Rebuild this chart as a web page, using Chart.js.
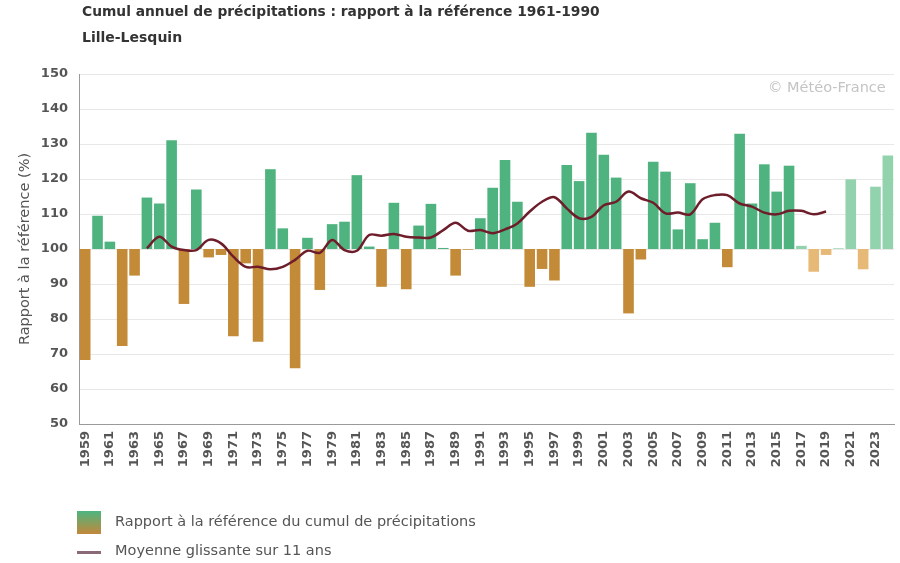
<!DOCTYPE html>
<html>
<head>
<meta charset="utf-8">
<script src="https://cdn.jsdelivr.net/npm/chart.js@4"></script>
<style>
  body { margin: 0; background: #fff; font-family: "DejaVu Sans", Verdana, sans-serif; }
  .page { position: relative; width: 900px; height: 563px; overflow: hidden; }
  .title { position: absolute; left: 82px; top: 3px; font-size: 13.8px; font-weight: bold; color: #333; white-space: nowrap; }
  .sub { position: absolute; left: 82px; top: 29px; font-size: 14px; font-weight: bold; color: #333; white-space: nowrap; }
  .copy { position: absolute; left: 768px; top: 79px; font-size: 14.5px; color: #c4c4c4; white-space: nowrap; }
  .chartBox { position: absolute; left: 0; top: 0; width: 900px; height: 563px; }
  .legend { position: absolute; left: 77px; font-size: 14.5px; color: #555; }
  .legend span { position: absolute; left: 38px; white-space: nowrap; }
  .sq { position: absolute; left: 0; top: 0; width: 24px; height: 23px;
        background: linear-gradient(#4cb57f, #c3873a); }
  .ln { position: absolute; left: 0; width: 24px; height: 3px; background: #8a6a78; }
</style>
</head>
<body>
<div class="page">
  <div class="chartBox"><canvas id="Chart" width="900" height="563"></canvas></div>
  <div class="title">Cumul annuel de précipitations : rapport à la référence 1961-1990</div>
  <div class="sub">Lille-Lesquin</div>
  <div class="copy">© Météo-France</div>
  <div class="legend" style="top:511px"><div class="sq"></div><span style="top:2px">Rapport à la référence du cumul de précipitations</span></div>
  <div class="legend" style="top:542px"><div class="ln" style="top:9px"></div><span style="top:0px">Moyenne glissante sur 11 ans</span></div>
</div>
<script>
let years = [];
for (let y = 1959; y <= 2024; y++) years.push(String(y));

// rapport annuel (%)
let ratio = [
  68.3, 109.5, 102.1, 72.3, 92.4, 114.7, 113.0, 131.1, 84.3, 117.0,
  97.6, 98.3, 75.1, 95.9, 73.5, 122.8, 105.9, 65.9, 103.2, 88.3,
  107.1, 107.8, 121.1, 100.7, 89.2, 113.2, 88.5, 106.7, 112.9, 100.3,
  92.4, 99.8, 108.8, 117.5, 125.4, 113.5, 89.2, 94.3, 91.0, 124.0,
  119.4, 133.2, 126.9, 120.4, 81.6, 97.0, 124.9, 122.1, 105.6, 118.8,
  102.8, 107.5, 94.8, 132.9, 113.0, 124.2, 116.4, 123.8, 100.9, 93.5,
  98.3, 100.2, 119.9, 94.2, 117.8, 126.7
];

// moyenne glissante 11 ans (1964-2019)
let movingAvg = [
  null, null, null, null, null,
  100.2, 103.5, 100.7, 99.7, 99.7, 102.6, 101.6, 97.8, 94.9, 94.9,
  94.2, 94.9, 96.9, 99.5, 98.9, 102.6, 99.7, 99.5, 104.0, 103.8,
  104.3, 103.5, 103.3, 103.3, 105.4, 107.5, 105.2, 105.4, 104.5, 105.6,
  107.3, 110.7, 113.5, 114.8, 111.6, 108.8, 109.2, 112.5, 113.5, 116.4,
  114.5, 113.2, 110.2, 110.4, 109.9, 114.2, 115.4, 115.4, 113.0, 112.1,
  110.4, 109.9, 110.9, 110.9, 109.9, 110.7,
  null, null, null, null, null
];

let yTicks = [50, 60, 70, 80, 90, 100, 110, 120, 130, 140, 150];
let firstFaded = 2017;

function barColor(i) {
  let v = ratio[i];
  let faded = Number(years[i]) >= firstFaded;
  if (v >= 100) return faded ? '#92d3ad' : '#4fb37f';
  return faded ? '#e6b977' : '#c38a37';
}

let ctx = document.getElementById('Chart').getContext('2d');

new Chart(ctx, {
  type: 'bar',
  data: {
    labels: years,
    datasets: [
      {
        type: 'line',
        label: 'Moyenne glissante sur 11 ans',
        data: movingAvg,
        borderColor: '#6e1d2a',
        borderWidth: 2.5,
        pointRadius: 0,
        tension: 0.35,
        spanGaps: false,
        order: 0
      },
      {
        label: 'Rapport à la référence du cumul de précipitations',
        data: ratio.map(v => [100, v]),
        backgroundColor: ratio.map((v, i) => barColor(i)),
        borderWidth: 0,
        barPercentage: 0.86,
        categoryPercentage: 1,
        order: 1
      }
    ]
  },
  options: {
    responsive: false,
    animation: false,
    layout: { padding: { top: 74, right: 6, left: 0, bottom: 0 } },
    plugins: {
      legend: { display: false },
      tooltip: { enabled: false }
    },
    scales: {
      x: {
        grid: { display: false, drawTicks: false },
        border: { color: '#9a9a9a', width: 1 },
        ticks: {
          autoSkip: false,
          maxRotation: 90,
          minRotation: 90,
          padding: 7,
          color: '#555',
          font: { family: 'DejaVu Sans', size: 13, weight: 'bold' },
          callback: function (val, i) { return i % 2 === 0 ? years[i] : ''; }
        },
        afterFit: function (scale) {
          scale.height = 139;
          scale.paddingLeft = 0;
          scale.paddingRight = 0;
        }
      },
      y: {
        min: 50,
        max: 150,
        afterBuildTicks: function (scale) { scale.ticks = yTicks.map(v => ({ value: v })); },
        grid: { color: '#e8e8e8', drawTicks: false },
        border: { color: '#9a9a9a', width: 1 },
        ticks: {
          padding: 11,
          color: '#555',
          font: { family: 'DejaVu Sans', size: 13, weight: 'bold' }
        },
        title: {
          display: true,
          text: 'Rapport à la référence (%)',
          color: '#555',
          font: { family: 'DejaVu Sans', size: 14.5 },
          padding: { top: 17, bottom: 0 }
        },
        afterFit: function (scale) { scale.width = 79; }
      }
    }
  }
});
</script>
</body>
</html>
